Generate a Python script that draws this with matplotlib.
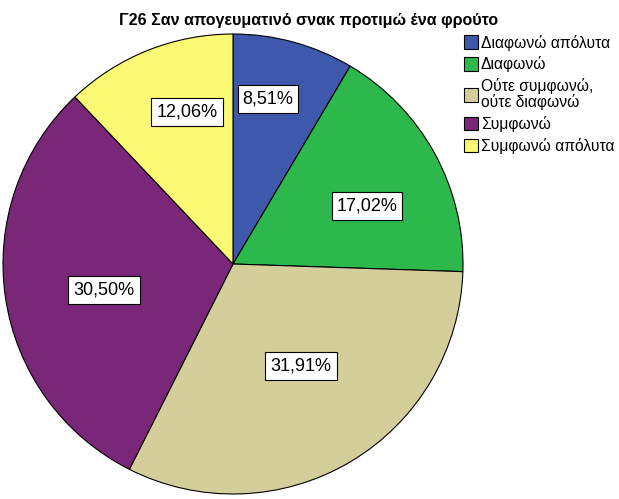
import matplotlib
matplotlib.use("Agg")
import matplotlib.pyplot as plt
from matplotlib.patches import Patch

title = "Γ26 Σαν απογευματινό σνακ προτιμώ ένα φρούτο"
categories = ["Διαφωνώ απόλυτα", "Διαφωνώ", "Ούτε συμφωνώ,\nούτε διαφωνώ", "Συμφωνώ", "Συμφωνώ απόλυτα"]
values = [8.51, 17.02, 31.91, 30.50, 12.06]
colors = ["#3E58AC", "#2DB84B", "#D4CF9A", "#7B2779", "#FBF873"]

# label box centres in pixel coordinates (layout)
label_pos = [(268, 99), (367, 206), (301, 366), (104, 290), (187, 112)]

plt.rcParams['font.family'] = ['Liberation Sans', 'DejaVu Sans']

W, H = 619, 499
fig = plt.figure(figsize=(W / 100, H / 100), dpi=100)
renderer = fig.canvas.get_renderer()


def fit_size(s, target_px, weight='normal'):
    t = fig.text(0, 0, s, fontsize=10, fontweight=weight)
    w = t.get_window_extent(renderer).width
    t.remove()
    return 10 * target_px / w


ax = fig.add_axes([0, 0, 1, 1])
cx, cy, r = 233, H - 264, 230
ax.pie(values, colors=colors, startangle=90, counterclock=False,
       center=(cx, cy), radius=r, frame=True,
       wedgeprops=dict(edgecolor='black', linewidth=0.8))
ax.set_xlim(0, W)
ax.set_ylim(0, H)
ax.set_aspect('equal')
ax.axis('off')

lab_fs = fit_size("12,06%", 61)
for v, (px, py) in zip(values, label_pos):
    ax.text(px, H - py, f"{v:.2f}%".replace('.', ','), ha='center', va='center',
            fontsize=lab_fs,
            bbox=dict(boxstyle='square,pad=0.28', facecolor='white', edgecolor='black', linewidth=0.8))

title_fs = fit_size(title, 377, 'bold')
fig.text(308.5 / W, 1 - 25 / H, title, ha='center', va='baseline', fontsize=title_fs, fontweight='bold')

leg_fs = fit_size("Διαφωνώ απόλυτα", 129)
handles = [Patch(facecolor=c, edgecolor='black', linewidth=0.8) for c in colors]
leg = fig.legend(handles, categories, loc='upper left', bbox_to_anchor=(462 / W, 1 - 33 / H),
                 frameon=False, fontsize=leg_fs, handlelength=0.95, handleheight=0.95,
                 handletextpad=0.15, labelspacing=0.37, borderpad=0.1, borderaxespad=0)
for t in leg.get_texts():
    t.set_linespacing(1.0)

fig.savefig("out.png", dpi=100)
